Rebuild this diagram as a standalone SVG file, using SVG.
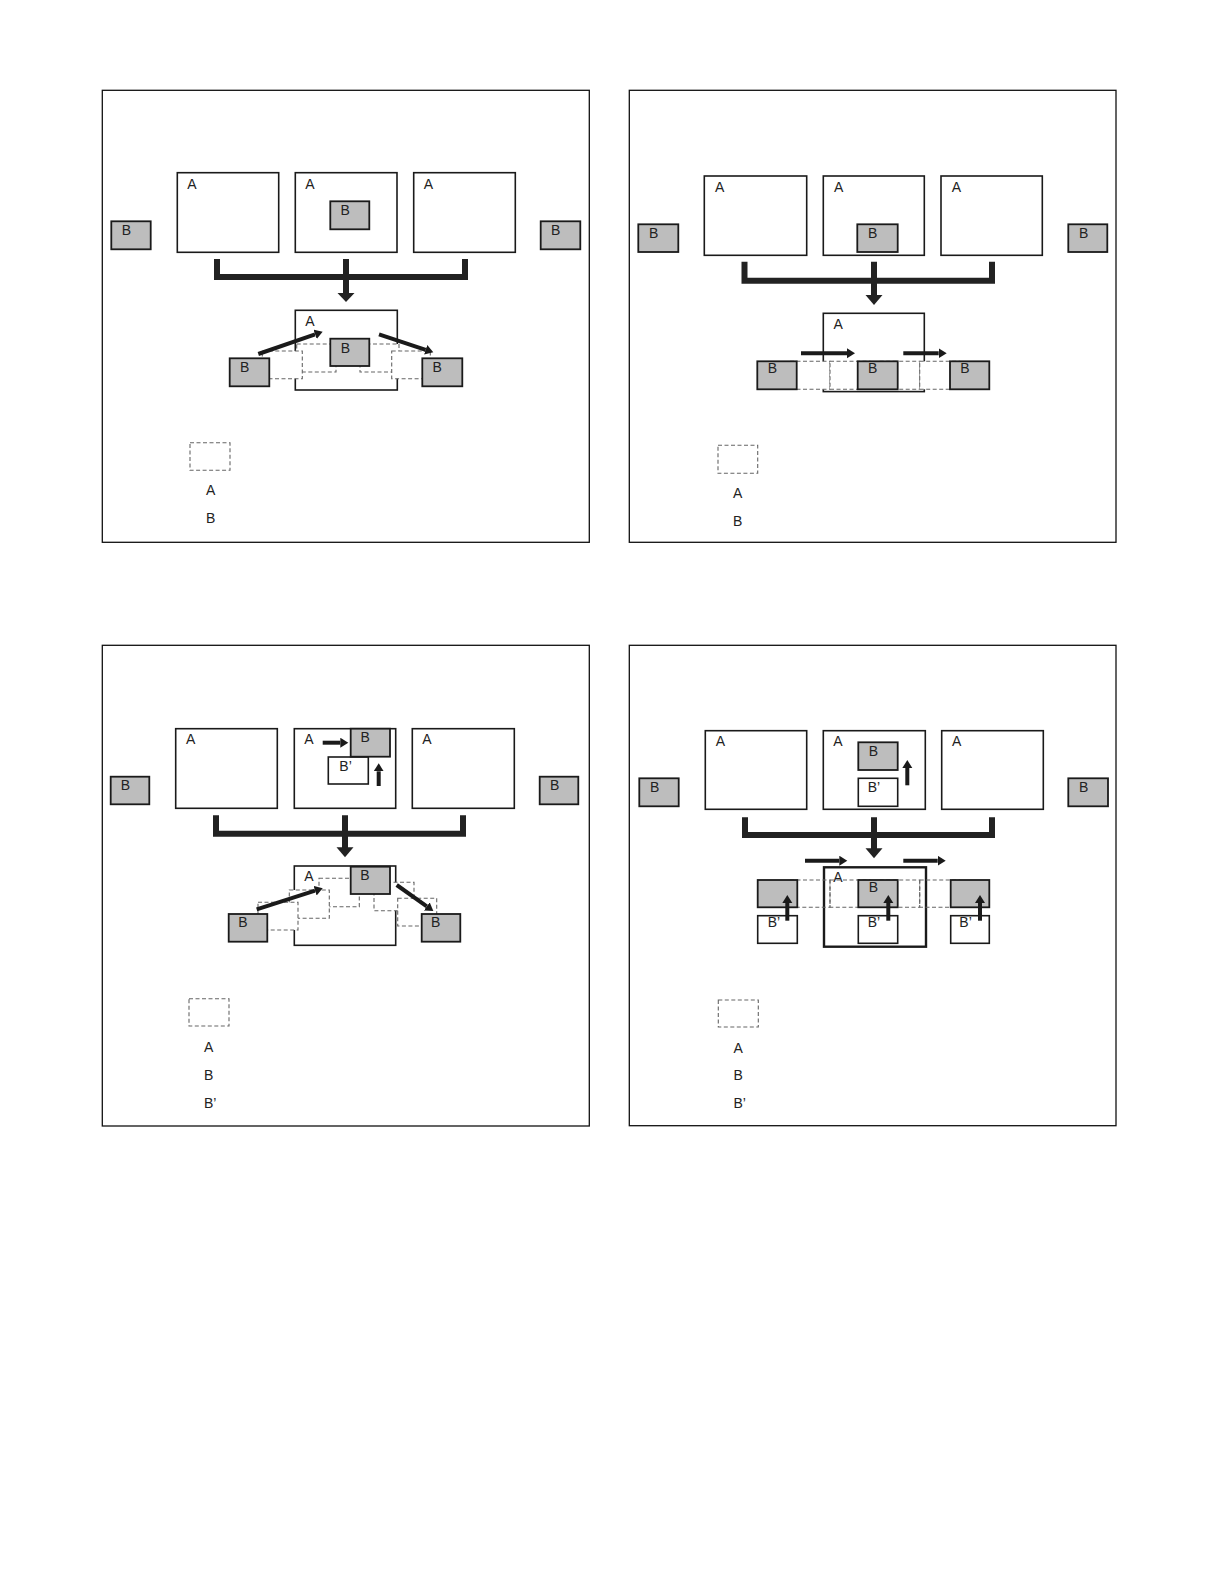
<svg xmlns="http://www.w3.org/2000/svg" width="1218" height="1588" viewBox="0 0 1218 1588">
<style>
.panel{fill:none;stroke:#111;stroke-width:1.3}
.a{fill:#fff;stroke:#1a1a1a;stroke-width:1.6}
.ak{fill:#fff;stroke:#1a1a1a;stroke-width:2.4}
.b{fill:#bdbdbd;stroke:#1a1a1a;stroke-width:1.8}
.bp{fill:#fff;stroke:#1a1a1a;stroke-width:1.6}
.g{fill:#fff;stroke:#666;stroke-width:1.1;stroke-dasharray:4 2.5}
.gn{fill:none;stroke:#666;stroke-width:1.1;stroke-dasharray:4 2.5}
.t{font-family:"Liberation Sans",Arial,sans-serif;font-size:14px;fill:#222}
.br{fill:none;stroke:#222;stroke-width:6;stroke-linejoin:miter}
.ar{stroke:#1a1a1a;stroke-width:4;fill:none;marker-end:url(#h)}
.hd{fill:#222}
</style>
<defs>
<marker id="h" markerUnits="userSpaceOnUse" markerWidth="9" markerHeight="11" refX="0" refY="5" orient="auto">
<path d="M0,0 L8,5 L0,10 z" fill="#1a1a1a"/>
</marker>
</defs>
<rect width="1218" height="1588" fill="#fff"/>

<!-- Panel 1 -->
<g id="panel1">
<rect class="panel" x="102.3" y="90.3" width="487" height="452"/>
<g id="p1-A1"><rect class="a" x="177.3" y="172.7" width="101.4" height="79.6"/><text class="t" x="187.3" y="188.7">A</text></g>
<g id="p1-A2"><rect class="a" x="295.3" y="172.7" width="101.7" height="79.6"/><text class="t" x="305.3" y="188.7">A</text></g>
<g id="p1-B-in"><rect class="b" x="330.3" y="201.3" width="39" height="28"/><text class="t" x="340.5" y="215">B</text></g>
<g id="p1-A3"><rect class="a" x="413.7" y="172.7" width="101.6" height="79.6"/><text class="t" x="423.7" y="188.7">A</text></g>
<g id="p1-BL"><rect class="b" x="111.3" y="221.3" width="39.4" height="28"/><text class="t" x="121.7" y="235">B</text></g>
<g id="p1-BR"><rect class="b" x="540.7" y="221.3" width="39.6" height="28"/><text class="t" x="551" y="235">B</text></g>
<g id="p1-Abot"><rect class="a" x="295.3" y="310.3" width="102" height="79.7"/><text class="t" x="305.3" y="326">A</text></g>
<g id="p1-ghosts">
<rect class="g" x="296.7" y="344" width="39.3" height="28"/>
<rect class="g" x="262.3" y="351" width="40" height="27.7"/>
<rect class="g" x="360" y="344" width="39" height="28"/>
<rect class="g" x="391.7" y="351" width="38.6" height="27.7"/>
</g>
<g id="p1-Bc"><rect class="b" x="330.3" y="338.7" width="39" height="27.3"/><text class="t" x="340.7" y="352.5">B</text></g>
<g id="p1-Bl"><rect class="b" x="229.7" y="358.3" width="39.6" height="28"/><text class="t" x="240" y="372">B</text></g>
<g id="p1-Br"><rect class="b" x="422.3" y="358.3" width="40" height="28"/><text class="t" x="432.5" y="372">B</text></g>
<g id="p1-legend">
<rect class="gn" x="190" y="442.7" width="40" height="27.6"/>
<text class="t" x="206" y="495">A</text>
<text class="t" x="206" y="523">B</text>
</g>
</g>

<!-- Panel 2 -->
<g id="panel2">
<rect class="panel" x="629.3" y="90.3" width="486.7" height="452"/>
<g id="p2-A1"><rect class="a" x="704.3" y="176" width="102.4" height="79.3"/><text class="t" x="715" y="192">A</text></g>
<g id="p2-A2"><rect class="a" x="823.3" y="176" width="101" height="79.3"/><text class="t" x="834" y="192">A</text></g>
<g id="p2-B-in"><rect class="b" x="857.3" y="224.3" width="40.4" height="27.7"/><text class="t" x="868" y="237.7">B</text></g>
<g id="p2-A3"><rect class="a" x="941" y="176" width="101.3" height="79.3"/><text class="t" x="951.7" y="192">A</text></g>
<g id="p2-BL"><rect class="b" x="638.3" y="224.3" width="40" height="27.7"/><text class="t" x="649" y="237.7">B</text></g>
<g id="p2-BR"><rect class="b" x="1068.3" y="224.3" width="39" height="27.7"/><text class="t" x="1079" y="237.7">B</text></g>
<g id="p2-Abot"><rect class="a" x="823.3" y="313.3" width="101" height="78.3"/><text class="t" x="833.5" y="329">A</text></g>
<g id="p2-ghosts">
<rect class="g" x="790" y="361.3" width="40" height="28"/>
<rect class="g" x="830" y="361.3" width="40" height="28"/>
<rect class="g" x="879.7" y="361.3" width="40" height="28"/>
<rect class="g" x="919.7" y="361.3" width="40" height="28"/>
</g>
<g id="p2-Bl"><rect class="b" x="757.3" y="361.3" width="39.4" height="28"/><text class="t" x="767.7" y="373.3">B</text></g>
<g id="p2-Bc"><rect class="b" x="857.7" y="361.3" width="40" height="28"/><text class="t" x="868" y="373.3">B</text></g>
<g id="p2-Br"><rect class="b" x="950" y="361.3" width="39.3" height="28"/><text class="t" x="960.3" y="373.3">B</text></g>
<g id="p2-legend">
<rect class="gn" x="718" y="445.3" width="39.7" height="28"/>
<text class="t" x="733" y="498">A</text>
<text class="t" x="733" y="526">B</text>
</g>
</g>

<!-- Panel 3 -->
<g id="panel3">
<rect class="panel" x="102.3" y="645.3" width="487" height="480.7"/>
<g id="p3-A1"><rect class="a" x="175.7" y="728.7" width="101.6" height="79.6"/><text class="t" x="186" y="744.3">A</text></g>
<g id="p3-A2"><rect class="a" x="294.3" y="728.7" width="101.4" height="79.6"/><text class="t" x="304.3" y="744.3">A</text></g>
<g id="p3-Bp-in"><rect class="bp" x="328.3" y="757" width="40" height="27"/><text class="t" x="339.3" y="771">B’</text></g>
<g id="p3-B-in"><rect class="b" x="350.7" y="728.7" width="39.3" height="28"/><text class="t" x="360.5" y="742.3">B</text></g>
<g id="p3-A3"><rect class="a" x="412.3" y="728.7" width="102" height="79.6"/><text class="t" x="422.3" y="744.3">A</text></g>
<g id="p3-BL"><rect class="b" x="110.7" y="776.7" width="38.6" height="27.6"/><text class="t" x="120.7" y="790">B</text></g>
<g id="p3-BR"><rect class="b" x="539.7" y="776.7" width="38.6" height="27.6"/><text class="t" x="550" y="790">B</text></g>
<g id="p3-Abot"><rect class="a" x="294.3" y="866" width="101.4" height="79.3"/><text class="t" x="304.3" y="881">A</text></g>
<g id="p3-ghosts">
<rect class="g" x="319" y="878.3" width="40.3" height="28.4"/>
<rect class="g" x="289.3" y="890" width="40" height="28.3"/>
<rect class="g" x="258" y="902.3" width="40" height="27.7"/>
<rect class="g" x="374" y="882.3" width="40" height="28.4"/>
<rect class="g" x="397.7" y="898.3" width="39" height="27.7"/>
</g>
<g id="p3-Bt"><rect class="b" x="350.7" y="866.7" width="39.3" height="27.3"/><text class="t" x="360.3" y="880">B</text></g>
<g id="p3-Bl"><rect class="b" x="228.7" y="914" width="38.6" height="27.7"/><text class="t" x="238.3" y="926.7">B</text></g>
<g id="p3-Br"><rect class="b" x="421.7" y="914" width="38.6" height="27.7"/><text class="t" x="431" y="926.7">B</text></g>
<g id="p3-legend">
<rect class="gn" x="189" y="998.7" width="40" height="27.3"/>
<text class="t" x="204" y="1052">A</text>
<text class="t" x="204" y="1079.5">B</text>
<text class="t" x="204" y="1107.5">B’</text>
</g>
</g>

<!-- Panel 4 -->
<g id="panel4">
<rect class="panel" x="629.3" y="645.3" width="486.7" height="480.4"/>
<g id="p4-A1"><rect class="a" x="705.3" y="730.7" width="101.4" height="78.6"/><text class="t" x="715.7" y="746">A</text></g>
<g id="p4-A2"><rect class="a" x="823.3" y="730.7" width="102" height="78.6"/><text class="t" x="833.3" y="746">A</text></g>
<g id="p4-B-in"><rect class="b" x="858.3" y="742.3" width="39.4" height="27.7"/><text class="t" x="868.7" y="756">B</text></g>
<g id="p4-Bp-in"><rect class="bp" x="858.3" y="778.3" width="39.4" height="28"/><text class="t" x="867.7" y="791.7">B’</text></g>
<g id="p4-A3"><rect class="a" x="941.7" y="730.7" width="101.6" height="78.6"/><text class="t" x="952" y="746">A</text></g>
<g id="p4-BL"><rect class="b" x="639.3" y="778.3" width="39.4" height="28"/><text class="t" x="650" y="791.7">B</text></g>
<g id="p4-BR"><rect class="b" x="1068.3" y="778.3" width="39.7" height="28"/><text class="t" x="1079" y="791.7">B</text></g>
<g id="p4-Abot"><rect class="ak" x="824" y="867.3" width="102" height="79.4"/><text class="t" x="833.3" y="882.3">A</text></g>
<g id="p4-ghosts">
<rect class="gn" x="790" y="880" width="40" height="27.3"/>
<rect class="gn" x="830" y="880" width="40" height="27.3"/>
<rect class="gn" x="879.7" y="880" width="40" height="27.3"/>
<rect class="gn" x="919.7" y="880" width="40" height="27.3"/>
</g>
<g id="p4-Bl"><rect class="b" x="757.7" y="880" width="39.6" height="27.3"/></g>
<g id="p4-Bc"><rect class="b" x="858.3" y="880" width="39.4" height="27.3"/><text class="t" x="868.7" y="891.7">B</text></g>
<g id="p4-Br"><rect class="b" x="950.7" y="880" width="38.6" height="27.3"/></g>
<g id="p4-Bpl"><rect class="bp" x="757.7" y="915.7" width="39.6" height="27.6"/><text class="t" x="767.7" y="926.7">B’</text></g>
<g id="p4-Bpc"><rect class="bp" x="858.3" y="915.7" width="39.4" height="27.6"/><text class="t" x="867.7" y="926.7">B’</text></g>
<g id="p4-Bpr"><rect class="bp" x="950.7" y="915.7" width="38.6" height="27.6"/><text class="t" x="959.3" y="926.7">B’</text></g>
<g id="p4-legend">
<rect class="gn" x="718.3" y="1000" width="40" height="27"/>
<text class="t" x="733.5" y="1052.5">A</text>
<text class="t" x="733.5" y="1080">B</text>
<text class="t" x="733.5" y="1108">B’</text>
</g>
</g>

<g id="connectors">
<!-- panel 1 -->
<path class="br" d="M217,259 V277 H465 V259 M346,259 V294"/>
<polygon class="hd" points="337.5,293 354.5,293 346,302"/>
<line class="ar" x1="258.3" y1="354" x2="315.1" y2="334.3"/>
<line class="ar" x1="379" y1="334.3" x2="425.7" y2="349.8"/>
<!-- panel 2 -->
<path class="br" d="M744.5,261.7 V280.7 H992 V261.7 M874,261.7 V296"/>
<polygon class="hd" points="865.5,295 882.5,295 874,305"/>
<line class="ar" x1="801" y1="353.3" x2="847" y2="353.3"/>
<line class="ar" x1="903.3" y1="353.3" x2="938.7" y2="353.3"/>
<!-- panel 3 -->
<path class="br" d="M216,815.3 V833.7 H463 V815.3 M345,815.3 V848.3"/>
<polygon class="hd" points="336.5,847.3 353.5,847.3 345,857.3"/>
<line class="ar" x1="322.7" y1="742.7" x2="340.3" y2="742.7"/>
<line class="ar" x1="378.7" y1="786" x2="378.7" y2="771.3"/>
<line class="ar" x1="256.7" y1="909.3" x2="315.1" y2="890.7"/>
<line class="ar" x1="396.7" y1="885" x2="426.8" y2="906.4"/>
<!-- panel 4 -->
<path class="br" d="M745,817.3 V835 H992 V817.3 M874,817.3 V849.3"/>
<polygon class="hd" points="865.5,848.3 882.5,848.3 874,858.3"/>
<line class="ar" x1="907.3" y1="785.3" x2="907.3" y2="768"/>
<line class="ar" x1="805" y1="860.7" x2="839.3" y2="860.7"/>
<line class="ar" x1="903.3" y1="860.7" x2="937.7" y2="860.7"/>
<line class="ar" x1="787.3" y1="920.7" x2="787.3" y2="903"/>
<line class="ar" x1="888.3" y1="920.7" x2="888.3" y2="903"/>
<line class="ar" x1="980" y1="920.7" x2="980" y2="903"/>
</g>
</svg>
